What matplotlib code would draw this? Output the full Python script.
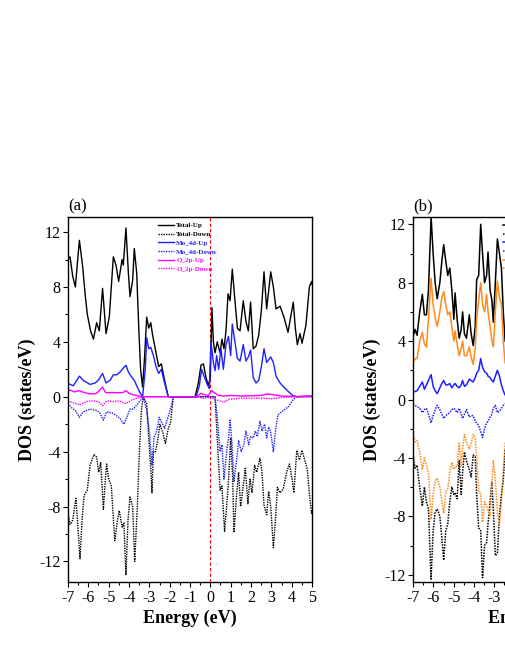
import matplotlib
matplotlib.use('Agg')
import matplotlib.pyplot as plt
from matplotlib.ticker import MultipleLocator

plt.rcParams['font.family'] = 'Liberation Serif'
plt.rcParams['axes.unicode_minus'] = False

# ---- panel (a) data ----
e_tot_up_a = [-7.00, -6.90, -6.77, -6.64, -6.44, -6.28, -6.16, -6.05, -5.89, -5.75, -5.59, -5.46,
              -5.30, -5.13, -4.97, -4.77, -4.64, -4.51, -4.34, -4.28, -4.15, -4.03, -3.95, -3.82,
              -3.74, -3.62, -3.52, -3.43, -3.33, -3.23, -3.13, -3.03, -2.93, -2.84, -2.67, -2.54,
              -2.41, -2.25, -2.07, -0.75, -0.59, -0.46, -0.34, -0.23, -0.10, 0.00, 0.08, 0.15,
              0.23, 0.34, 0.48, 0.57, 0.67, 0.77, 0.87, 0.97, 1.08, 1.21, 1.33, 1.46, 1.62, 1.75,
              1.87, 1.98, 2.11, 2.25, 2.38, 2.51, 2.64, 2.77, 2.97, 3.10, 3.23, 3.43, 3.62, 3.82,
              3.95, 4.08, 4.18, 4.28, 4.41, 4.51, 4.70, 4.87, 4.98, 5.00]
tot_up_a = [10.0, 10.2, 8.8, 8.0, 11.4, 9.5, 7.5, 6.0, 4.8, 4.2, 5.4, 4.8,
            7.9, 4.6, 5.8, 10.2, 9.6, 8.4, 10.0, 9.6, 12.3, 9.0, 7.3, 8.5,
            10.8, 9.0, 5.0, 2.0, 0.7, 3.0, 5.8, 5.0, 5.4, 4.5, 3.2, 2.2,
            2.4, 1.2, 0.0, 0.0, 1.0, 2.3, 2.4, 1.5, 0.8, 1.4, 6.5, 4.0,
            3.2, 4.0, 3.2, 4.2, 3.5, 4.8, 7.5, 7.0, 9.3, 7.0, 5.0, 4.8, 7.0, 5.5,
            4.8, 6.9, 3.5, 3.7, 4.5, 6.3, 9.1, 6.4, 9.1, 8.0, 6.4, 6.6, 5.8, 4.7,
            5.8, 6.9, 5.0, 3.8, 4.6, 3.9, 5.2, 8.0, 8.4, 8.2]

e_tot_dn_a = [-7.00, -6.90, -6.77, -6.61, -6.51, -6.41, -6.31, -6.21, -6.05, -5.92, -5.72, -5.59,
              -5.49, -5.39, -5.26, -5.16, -5.10, -5.00, -4.87, -4.70, -4.57, -4.48, -4.34, -4.25,
              -4.15, -4.05, -3.95, -3.82, -3.72, -3.59, -3.49, -3.39, -3.30, -3.13, -3.03, -2.93,
              -2.87, -2.80, -2.70, -2.61, -2.48, -2.34, -2.21, -2.08, -1.95, -1.82, 0.23, 0.34,
              0.48, 0.57, 0.70, 0.80, 0.90, 1.00, 1.10, 1.16, 1.30, 1.39, 1.49, 1.62, 1.72, 1.85,
              1.95, 2.05, 2.18, 2.28, 2.44, 2.54, 2.64, 2.77, 2.87, 2.97, 3.10, 3.20, 3.30, 3.43,
              3.59, 3.75, 3.89, 4.02, 4.11, 4.25, 4.38, 4.51, 4.64, 4.77, 4.90, 4.98, 5.00]
tot_dn_a = [-8.5, -9.3, -9.0, -7.4, -9.5, -11.8, -9.0, -7.2, -6.8, -5.0, -4.2, -4.4,
            -5.5, -4.8, -8.2, -6.0, -4.9, -6.0, -6.5, -10.5, -9.0, -8.3, -9.5, -9.2,
            -13.0, -9.0, -7.3, -8.0, -12.0, -8.0, -4.0, -1.0, 0.0, -0.5, -3.0, -5.2,
            -7.0, -4.0, -4.0, -3.4, -2.0, -2.6, -3.4, -2.4, -1.8, 0.0, 0.0, -3.0,
            -6.8, -6.5, -9.8, -8.0, -6.0, -3.0, -6.0, -9.9, -7.0, -5.5, -8.0, -6.5, -5.2, -7.8,
            -6.0, -7.0, -5.0, -5.5, -4.5, -5.5, -7.9, -8.6, -6.9, -8.0, -11.0, -9.0, -6.6, -7.0,
            -6.7, -5.5, -4.9, -6.0, -7.0, -3.9, -4.6, -3.9, -4.6, -5.3, -7.5, -8.5, -8.3]

e_mo_up_a = [-7.00, -6.90, -6.74, -6.44, -6.25, -5.92, -5.67, -5.51, -5.30, -5.13, -4.93, -4.77,
             -4.61, -4.44, -4.28, -4.15, -4.03, -3.90, -3.74, -3.59, -3.46, -3.33, -3.20, -3.13,
             -3.03, -2.93, -2.80, -2.67, -2.54, -2.41, -2.25, -2.07, -0.70, -0.54, -0.43, -0.31,
             -0.18, -0.05, 0.03, 0.15, 0.23, 0.31, 0.41, 0.52, 0.64, 0.77, 0.89, 1.00, 1.08, 1.21,
             1.33, 1.46, 1.62, 1.75, 1.87, 1.98, 2.11, 2.25, 2.38, 2.51, 2.64, 2.77, 2.97, 3.10,
             3.23, 3.43, 3.62, 3.82, 4.05, 4.25, 5.00]
mo_up_a = [1.0, 0.9, 0.8, 1.5, 1.2, 0.9, 1.0, 1.2, 1.7, 1.0, 1.2, 1.6,
           1.6, 1.8, 2.1, 2.3, 1.8, 1.5, 1.2, 0.7, 0.3, 0.0, 2.0, 4.3,
           3.5, 3.6, 3.0, 2.2, 1.7, 2.0, 1.0, 0.0, 0.0, 0.8, 2.0, 1.5,
           1.0, 0.6, 4.0, 2.5, 1.9, 3.0, 2.0, 3.5, 2.0, 3.8, 4.4, 3.0, 5.3, 4.0,
           2.8, 2.6, 3.8, 2.6, 2.9, 3.4, 1.4, 1.0, 1.2, 2.2, 3.5, 2.5, 2.9, 2.5,
           1.5, 1.0, 0.7, 0.4, 0.1, 0.0, 0.05]

e_mo_dn_a = [-7.00, -6.82, -6.64, -6.44, -6.25, -5.92, -5.59, -5.43, -5.26, -5.10, -4.77, -4.44,
             -4.25, -4.11, -3.95, -3.79, -3.62, -3.46, -3.30, -3.13, -3.00, -2.87, -2.77, -2.64,
             -2.51, -2.38, -2.25, -2.15, -2.02, -1.89, -1.82, 0.23, 0.34, 0.48, 0.57, 0.67,
             0.80, 0.90, 0.97, 1.07, 1.16, 1.30, 1.39, 1.52, 1.66, 1.75, 1.89, 1.98, 2.11, 2.21,
             2.31, 2.44, 2.54, 2.67, 2.77, 2.87, 2.97, 3.10, 3.20, 3.33, 3.59, 3.85, 4.08, 4.25, 5.00]
mo_dn_a = [-0.5, -0.8, -1.0, -1.5, -1.1, -0.9, -1.0, -1.2, -1.7, -1.1, -1.2, -1.6,
           -2.0, -1.5, -0.9, -0.9, -0.6, -0.3, 0.0, -1.0, -2.5, -5.0, -3.0, -2.5,
           -1.5, -1.9, -2.3, -1.8, -1.2, -0.5, 0.0, 0.0, -1.5, -4.0, -3.5, -6.0,
           -4.0, -3.0, -1.7, -3.5, -6.2, -4.5, -3.2, -4.0, -3.4, -2.5, -3.5, -2.9, -3.0, -2.5,
           -2.9, -1.8, -2.5, -2.0, -3.0, -2.2, -2.6, -4.0, -2.5, -1.3, -1.0, -0.7, -0.2, 0.0, 0.0]

e_o_up_a = [-7.0, -6.9, -6.7, -6.44, -6.2, -5.9, -5.6, -5.3, -5.15, -4.9, -4.6, -4.3, -4.15, -4.0,
            -3.8, -3.5, -3.3, -0.7, -0.45, -0.3, -0.1, 0.08, 0.2, 0.4, 0.7, 1.0, 1.5, 2.5, 2.8,
            3.1, 3.5, 4.2, 5.0]
o_up_a = [0.4, 0.5, 0.35, 0.45, 0.3, 0.2, 0.25, 0.7, 0.3, 0.3, 0.3, 0.3, 0.45, 0.25,
          0.15, 0.05, 0.0, 0.0, 0.25, 0.15, 0.1, 0.45, 0.3, 0.1, 0.05, 0.1, 0.05, 0.1, 0.2,
          0.15, 0.05, 0.02, 0.05]

e_o_dn_a = [-7.0, -6.9, -6.6, -6.44, -6.1, -5.8, -5.5, -5.3, -5.1, -4.8, -4.5, -4.15, -3.9, -3.6,
            -3.3, -0.6, -0.4, 0.0, 0.25, 0.45, 0.65, 0.9, 1.5, 2.5, 3.0, 3.5, 4.2, 5.0]
o_dn_a = [-0.4, -0.35, -0.5, -0.6, -0.35, -0.3, -0.35, -0.65, -0.3, -0.35, -0.3, -0.5, -0.25, -0.1,
          0.0, 0.0, -0.1, -0.05, -0.2, -0.3, -0.4, -0.2, -0.1, -0.1, -0.15, -0.05, 0.0, 0.0]

# ---- panel (b) data (only the left part is visible) ----
e_b = [-7.00, -6.90, -6.80, -6.67, -6.54, -6.44, -6.34, -6.24, -6.11, -6.01, -5.91, -5.81,
       -5.68, -5.58, -5.49, -5.39, -5.29, -5.19, -5.09, -4.99, -4.93, -4.83, -4.73, -4.63,
       -4.56, -4.47, -4.37, -4.23, -4.14, -4.04, -3.94, -3.87, -3.77, -3.67, -3.58, -3.48,
       -3.38, -3.31, -3.21, -3.12, -3.05, -2.95, -2.85, -2.75, -2.65, -2.56, -2.47, -2.30]
tot_up_b = [4.3, 4.8, 4.4, 6.0, 7.2, 5.8, 5.8, 7.5, 12.5, 10.0, 8.0, 6.9,
            8.0, 9.5, 10.6, 9.5, 8.5, 9.0, 7.5, 5.5, 7.3, 5.5, 4.2, 4.8,
            6.0, 4.5, 4.2, 5.8, 4.5, 3.7, 5.0, 8.2, 8.5, 12.0, 10.0, 8.0,
            8.5, 10.1, 7.5, 6.8, 5.3, 8.0, 11.0, 10.0, 9.0, 6.0, 4.0, 3.5]
o_up_b = [2.5, 2.8, 2.8, 4.0, 4.6, 3.8, 3.6, 5.5, 8.3, 6.5, 5.6, 5.0,
          6.0, 7.0, 7.4, 6.5, 5.8, 6.0, 5.0, 4.0, 4.7, 3.8, 3.0, 3.5,
          4.0, 3.0, 3.0, 3.6, 2.9, 2.4, 3.5, 5.5, 6.8, 8.0, 6.5, 6.0,
          7.2, 6.0, 5.0, 4.0, 3.6, 6.0, 8.1, 7.0, 6.5, 4.0, 2.5, 2.2]
mo_up_b = [0.5, 0.55, 0.6, 0.9, 1.2, 0.7, 1.0, 1.3, 1.7, 0.9, 0.6, 0.4,
           0.8, 1.1, 1.3, 1.0, 1.0, 1.1, 0.8, 1.0, 1.1, 0.9, 0.8, 1.0,
           1.3, 0.9, 1.0, 1.4, 1.3, 1.2, 1.5, 1.8, 2.0, 2.8, 2.2, 1.9,
           1.8, 1.6, 1.5, 1.3, 1.2, 1.6, 2.0, 1.6, 1.0, 0.6, 0.3, 0.3]
tot_dn_b = [-3.7, -4.7, -4.5, -6.0, -7.3, -6.0, -7.0, -7.5, -12.3, -9.0, -7.7, -7.5,
            -8.0, -9.5, -11.0, -9.0, -8.5, -7.0, -6.0, -6.5, -6.4, -6.8, -4.2, -6.5,
            -5.0, -3.6, -4.2, -4.8, -5.3, -3.8, -3.9, -6.5, -8.8, -9.0, -12.2, -10.0,
            -9.8, -8.5, -7.0, -5.6, -7.5, -10.7, -10.5, -8.0, -6.5, -5.5, -3.5, -3.0]
o_dn_b = [-2.3, -2.9, -2.8, -3.6, -4.8, -4.0, -4.5, -5.0, -8.2, -6.5, -5.6, -5.4,
          -6.0, -7.0, -7.8, -6.3, -6.1, -5.0, -4.3, -4.8, -4.6, -4.6, -3.0, -4.5,
          -3.4, -2.4, -2.9, -3.4, -3.0, -2.4, -2.6, -4.0, -6.2, -6.5, -8.4, -7.0,
          -7.3, -7.6, -8.0, -6.0, -4.2, -5.5, -7.7, -8.6, -7.0, -5.0, -3.0, -2.5]
mo_dn_b = [-0.3, -0.4, -0.5, -0.6, -0.9, -0.7, -0.6, -1.0, -1.6, -1.1, -0.7, -0.4,
           -0.7, -1.0, -1.3, -1.1, -1.0, -0.9, -0.7, -0.6, -0.7, -0.9, -0.6, -1.0,
           -1.3, -1.0, -0.7, -1.2, -1.1, -1.1, -1.5, -1.6, -1.8, -2.2, -2.6, -2.0,
           -1.6, -1.5, -1.2, -1.0, -0.6, -0.4, -0.9, -0.8, -0.6, -0.4, -0.3, -0.3]

legend_labels = ['Total-Up', 'Total-Down', 'Mo_4d-Up', 'Mo_4d-Down', 'O_2p-Up', 'O_2p-Down']

BLUE = '#1f1fff'
MAG = '#ff00ff'
ORANGE = '#ff8a1c'
DOT = (0, (1, 0.8))

fig = plt.figure(figsize=(5.05, 6.54), dpi=100)
W, H = 505.0, 654.0
ax1 = fig.add_axes([68 / W, 1 - 582 / H, 244 / W, 365 / H])
ax2 = fig.add_axes([413 / W, 1 - 582 / H, 244 / W, 365 / H])


def style_axes(ax, ylim, label):
    ax.set_xlim(-7, 5)
    ax.set_ylim(*ylim)
    ax.xaxis.set_major_locator(MultipleLocator(1))
    ax.xaxis.set_minor_locator(MultipleLocator(0.5))
    ax.yaxis.set_major_locator(MultipleLocator(4))
    ax.yaxis.set_minor_locator(MultipleLocator(2))
    ax.tick_params(which='major', direction='out', length=3.5, width=0.8, labelsize=11.5, pad=2)
    ax.tick_params(which='minor', direction='out', length=2, width=0.8)
    for s in ax.spines.values():
        s.set_linewidth(1.0)
    ax.set_xlabel('Energy (eV)', fontsize=13, fontweight='bold', labelpad=3)
    ax.set_ylabel('DOS (states/eV)', fontsize=13, fontweight='bold')
    ax.yaxis.set_label_coords(-0.13, 0.5)
    ax.text(0.0, 1.008, label, transform=ax.transAxes, fontsize=12, ha='left', va='bottom')
    ax.axvline(0, color='red', ls=(0, (3, 2)), lw=0.8)


style_axes(ax1, (-13.5, 13.1), '(a)')
ax1.plot(e_tot_up_a, tot_up_a, color='black', lw=1.0, label=legend_labels[0])
ax1.plot(e_tot_dn_a, tot_dn_a, color='black', lw=1.0, ls=DOT, label=legend_labels[1])
ax1.plot(e_mo_up_a, mo_up_a, color=BLUE, lw=1.0, label=legend_labels[2])
ax1.plot(e_mo_dn_a, mo_dn_a, color=BLUE, lw=1.0, ls=DOT, label=legend_labels[3])
ax1.plot(e_o_up_a, o_up_a, color=MAG, lw=1.0, label=legend_labels[4])
ax1.plot(e_o_dn_a, o_dn_a, color=MAG, lw=1.0, ls=DOT, label=legend_labels[5])

style_axes(ax2, (-12.5, 12.5), '(b)')
ax2.plot(e_b, tot_up_b, color='black', lw=1.1, label=legend_labels[0])
ax2.plot(e_b, tot_dn_b, color='black', lw=1.1, ls=DOT, label=legend_labels[1])
ax2.plot(e_b, mo_up_b, color=BLUE, lw=1.1, label=legend_labels[2])
ax2.plot(e_b, mo_dn_b, color=BLUE, lw=1.1, ls=DOT, label=legend_labels[3])
ax2.plot(e_b, o_up_b, color=ORANGE, lw=1.1, label=legend_labels[4])
ax2.plot(e_b, o_dn_b, color=ORANGE, lw=1.1, ls=DOT, label=legend_labels[5])

for ax in (ax1, ax2):
    leg = ax.legend(loc='upper left', bbox_to_anchor=(0.345, 1.0), frameon=False,
                    prop={'size': 5, 'weight': 'bold'}, handlelength=2.4,
                    handletextpad=0.25, labelspacing=0.4, borderpad=0.3)
    for line, txt in zip(leg.get_lines(), leg.get_texts()):
        txt.set_color(line.get_color())

fig.savefig('out.png', dpi=100)
